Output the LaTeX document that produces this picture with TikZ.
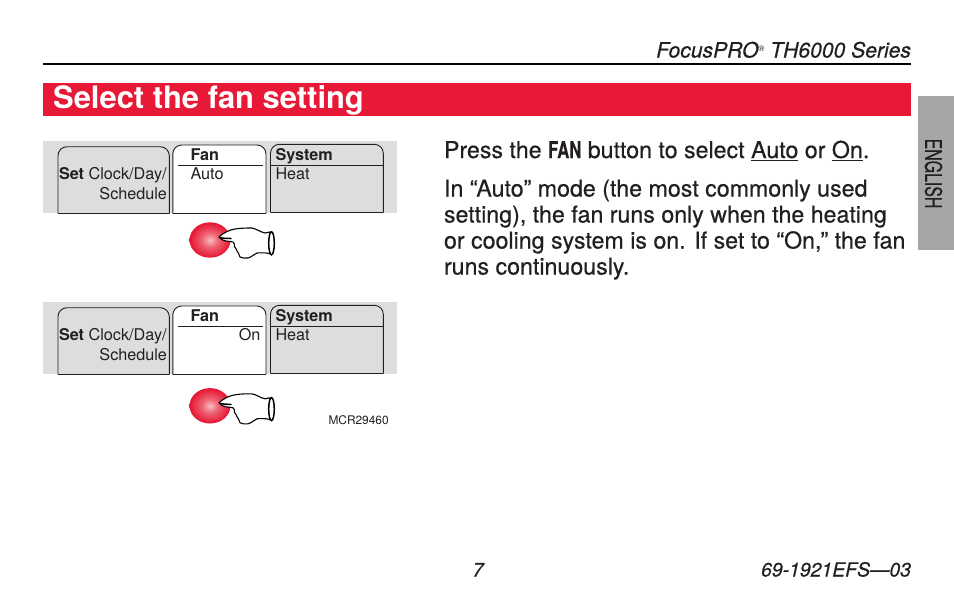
\documentclass[tikz,border=0pt]{standalone}
\usepackage{fontspec}
\setmainfont{TeX Gyre Heros}
\newfontfamily\medfont[FakeBold=0.5]{TeX Gyre Heros}
\usetikzlibrary{calc}
\definecolor{hred}{RGB}{231,25,54}
\definecolor{hgray}{RGB}{221,221,221}
\definecolor{tabgray}{RGB}{166,166,168}
\definecolor{htext}{RGB}{35,31,32}
\definecolor{btnin}{RGB}{247,190,195}
\definecolor{btnmid}{RGB}{238,100,115}
\pgfdeclareradialshading{btnshade}{\pgfpoint{0bp}{0bp}}{color(0bp)=(btnin); color(10bp)=(btnmid); color(24bp)=(hred); color(100bp)=(hred)}
\tikzset{
 x=1pt,y=-1pt,
 txt/.style={inner sep=0,outer sep=0,text=htext,font=\medfont\fontsize{23.2}{26}\selectfont},
 lbl/.style={inner sep=0,outer sep=0,text=htext,font=\fontsize{16.2}{18}\selectfont},
 keyb/.style={draw=htext,line width=0.9pt},
 hdr/.style={draw=htext,line width=0.8pt},
}
\newcommand{\fanhand}[2]{%
 \begin{scope}[shift={(#1,#2)}]
  \shade[shading=btnshade] (0,0) ellipse [x radius=20.5,y radius=17.7];
  \draw[fill=white,draw=black,line width=1.1pt,line join=round]
   (9,-3) .. controls (13,-7) and (19,-10) .. (25,-11)
   .. controls (31,-12) and (37,-12) .. (42,-12)
   .. controls (47,-11) and (50,-8) .. (55,-7)
   .. controls (57,-7) and (58,-8) .. (60,-8)
   -- (60,14)
   .. controls (58,13) and (55,12.5) .. (47,13)
   .. controls (44,14) and (42,17) .. (38,18)
   .. controls (35,18.5) and (32,18) .. (30,17)
   .. controls (29,14) and (28,12) .. (27,11)
   .. controls (27,9) and (25,8) .. (24.5,6.5)
   .. controls (25,4.5) and (24,3) .. (23,2)
   .. controls (20,1) and (12,2) .. (9,-3) -- cycle;
  \draw[black,line width=1.5pt,line cap=round] (10,-2.5) .. controls (13,-1.5) and (17,-1.5) .. (21,-1.5);
  \draw[fill=white,draw=black,line width=1.5pt] (61.5,3.3) ellipse [x radius=2.8,y radius=11.5];
 \end{scope}}
\newcommand{\panel}[2]{%
 \begin{scope}[shift={(0,#1)}]
  \fill[hgray] (43,0) rectangle (397,72);
  \draw[keyb,fill=hgray,rounded corners=9pt] (58,72.5) -- (58,5.7) -- (169.3,5.7) -- (169.3,72.5);
  \draw[keyb] (58,72.5) -- (169.3,72.5);
  \draw[keyb,fill=white,rounded corners=9pt] (172.8,72.5) -- (172.8,4) -- (266,4) -- (266,72.5);
  \draw[keyb] (172.8,72.5) -- (266,72.5);
  \draw[keyb,fill=hgray,rounded corners=9pt] (270.5,71.7) -- (270.5,3.3) -- (383.3,3.3) -- (383.3,71.7);
  \draw[keyb] (270.5,71.7) -- (383.3,71.7);
  \draw[hdr] (178,24.7) -- (263,24.7);
  \draw[hdr] (270.5,24.7) -- (382.5,24.7);
  \node[lbl,anchor=base west] at (59,38.3) {{\bfseries Set} Clock/Day/};
  \node[lbl,anchor=base east] at (167,58.3) {Schedule};
  \node[lbl,anchor=base west] at (190.5,19.3) {\bfseries Fan};
  \node[lbl,anchor=base west] at (275.5,19.3) {\bfseries System};
  \node[lbl,anchor=base west] at (275.5,38.3) {Heat};
  #2
 \end{scope}}
\begin{document}
\begin{tikzpicture}
\useasboundingbox (0,0) rectangle (954,608);
\fill[white] (0,0) rectangle (954,608);
\node[lbl,anchor=base east] (head) at (911,57.5) {\fontsize{21.1}{24}\medfont\selectfont\itshape FocusPRO\raisebox{6.5pt}{\fontsize{8}{9}\rmfamily\selectfont\textregistered} TH6000 Series};
\draw[black,line width=1.5pt] (43,64) -- (911,64);
\fill[hred] (43,83) rectangle (911,116);
\node[inner sep=0,text=white,anchor=base west,font=\fontsize{30.9}{34}\selectfont\bfseries] (title) at (53,108.5) {Select the fan setting};
\fill[tabgray] (918,96) rectangle (954,250);
\node[lbl,anchor=center,rotate=-90,font=\medfont\fontsize{23}{24}\selectfont] (eng) at (933.5,173.5) {\scalebox{0.69}[1]{ENGLISH}};
\panel{141}{\node[lbl,anchor=base west] at (190.5,38.3) {Auto};}
\fanhand{210}{240}
\panel{302}{\node[lbl,anchor=base east] at (260.5,38.3) {On};}
\fanhand{210}{405.8}
\node[lbl,anchor=base west,font=\fontsize{11.9}{14}\selectfont] (mcr) at (328.5,424.5) {MCR29460};
\node[txt,anchor=base west] (l1) at (444,158) {Press the \scalebox{0.72}[1]{\bfseries FAN} button to select \underline{Auto} or \underline{On}.};
\node[txt,anchor=base west] (l2) at (444,196.5) {In “Auto” mode (the most commonly used};
\node[txt,anchor=base west] (l3) at (444,222.5) {setting), the fan runs only when the heating};
\node[txt,anchor=base west] (l4) at (444,248.5) {or cooling system is on. If set to “On,” the fan};
\node[txt,anchor=base west] (l5) at (444,274.5) {runs continuously.};
\node[lbl,anchor=base] (pg) at (478,576.5) {\fontsize{19.4}{22}\medfont\selectfont\itshape 7};
\node[lbl,anchor=base east] (doc) at (911,576.5) {\fontsize{19.4}{22}\medfont\selectfont\itshape 69-1921EFS—03};
\end{tikzpicture}
\end{document}
